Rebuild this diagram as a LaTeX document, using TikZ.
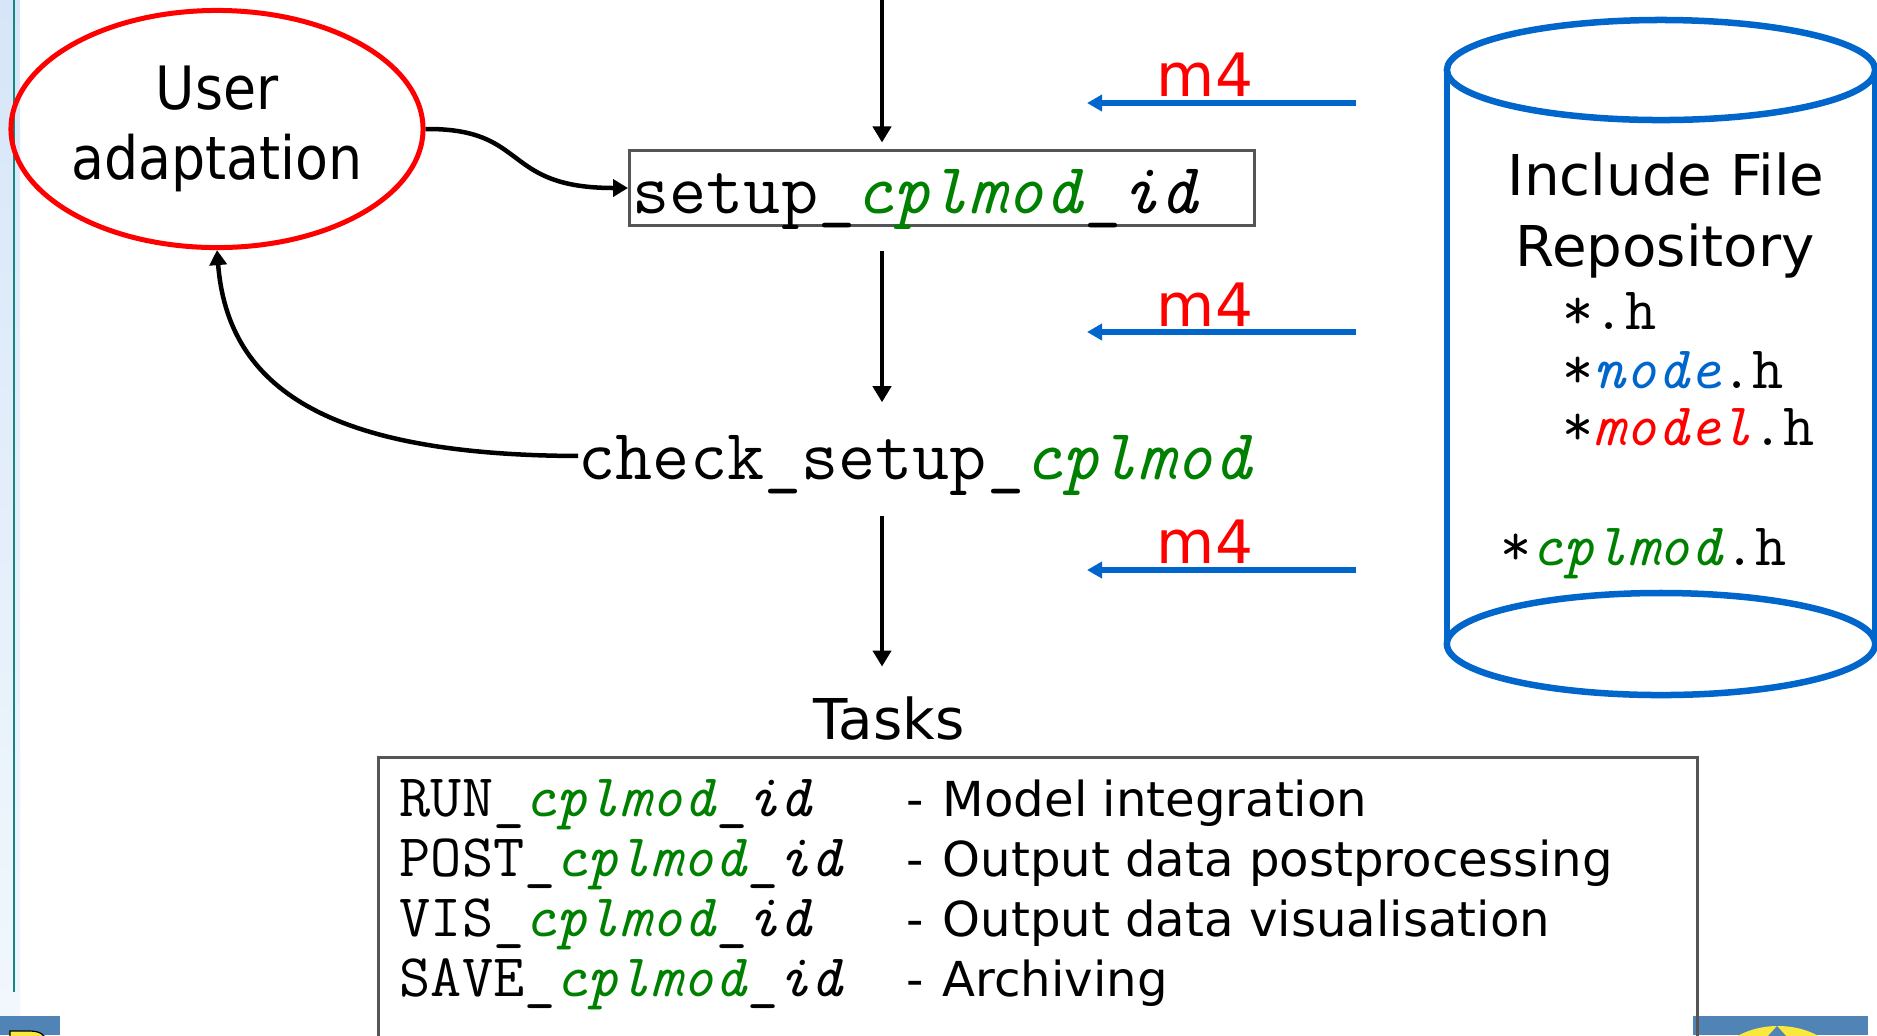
\documentclass[tikz,border=0pt]{standalone}
\usepackage{fontspec}
\setmainfont{DejaVu Sans}
\newfontfamily\narrowsf[FakeStretch=0.9]{DejaVu Sans}
\usetikzlibrary{arrows.meta,shapes.geometric}

\definecolor{cplgreen}{RGB}{0,128,0}
\definecolor{repoblue}{RGB}{0,102,204}
\definecolor{boxgray}{RGB}{85,85,85}
\definecolor{stripteal}{RGB}{20,135,128}
\definecolor{striptop}{RGB}{214,230,248}
\definecolor{stripbot}{RGB}{242,247,253}
\definecolor{logoblue}{RGB}{80,132,182}
\definecolor{logoyellow}{RGB}{250,232,60}

\begin{document}
\begin{tikzpicture}[x=0.01cm, y=-0.01cm,
	flow/.style={line width=0.04cm, -{Triangle[length=0.16cm,width=0.18cm]}},
	curvy/.style={line width=0.045cm, -{Triangle[length=0.15cm,width=0.17cm]}},
	feed/.style={draw=repoblue, line width=0.055cm, -{Triangle[length=0.15cm,width=0.16cm]}},
	bigsf/.style={font=\fontsize{16}{20}\selectfont, inner sep=0pt},
	bigtt/.style={font=\ttfamily\fontsize{20.5}{24}\selectfont},
	smalltt/.style={font=\ttfamily\fontsize{17.2}{20}\selectfont, anchor=base west, inner sep=0pt},
	descr/.style={font=\fontsize{13.7}{16}\selectfont, anchor=base west, inner sep=0pt}]

	\newcommand*{\cplm}{\textcolor{cplgreen}{\textit{cplmod}}} % model name

	\fill[white] (0,0) rectangle (1877,1035);
	\useasboundingbox (0,0) rectangle (1877,1035);

	% slide border and logos
	\shade[top color=striptop, bottom color=stripbot] (0,0) rectangle (20,1016);
	\draw[stripteal, line width=0.025cm] (14,0) -- (14,992);
	\fill[logoblue] (0,1016) rectangle (60,1035);
	\filldraw[fill=logoyellow, draw=black, line width=0.012cm] (10,1040) -- (10,1031) -- (30,1031) .. controls (40,1031) and (45,1035) .. (46,1040) -- cycle;
	\fill[logoblue] (1693,1016) rectangle (1868,1035);
	\begin{scope}
		\clip (1693,1016) rectangle (1868,1035);
		\fill[logoyellow] (1778,1080) ellipse [x radius=0.7cm, y radius=0.54cm];
		\fill[logoblue] (1777,1026) -- (1768,1036) -- (1786,1036) -- cycle;
	\end{scope}

	\node[ellipse, draw=red, line width=0.05cm, minimum width=4.08cm, minimum height=2.37cm, inner sep=0pt, align=center,
		font=\narrowsf\fontsize{17}{19.9}\selectfont] (user) at (217,129) {User\\adaptation};

	\node[bigtt, draw=boxgray, line width=0.03cm, anchor=west, text width=6.19cm, align=left, inner xsep=0.03cm, inner ysep=0pt,
		text height=0.62cm, text depth=0.12cm] (setup) at (628,188) {setup\_\cplm\_\textit{id}};
	\node[bigtt, anchor=base west, inner sep=0pt] (check) at (578,479) {check\_setup\_\cplm};
	\node[bigsf, anchor=base] (tasks) at (889,739) {Tasks};

	\coordinate (top) at (882,0);
	\draw[flow, shorten >=0.07cm] (top) -- (top |- setup.north);
	\draw[flow, shorten <=0.24cm, shorten >=0.32cm] (top |- setup.south) -- (top |- check.north);
	\draw[flow, shorten <=0.2cm, shorten >=0.29cm] (top |- check.south) -- (top |- tasks.north);

	\draw[curvy] (user.east) .. controls (530,128) and (500,188) .. (setup.west);
	\draw[curvy] ([yshift=0.09cm]check.west) .. controls (330,455) and (228,390) .. (user.south);

	% include file repository
	\draw[repoblue, line width=0.065cm] (1661,70) ellipse [x radius=2.14cm, y radius=0.5cm];
	\draw[repoblue, line width=0.065cm] (1447,70) -- (1447,644) (1875,70) -- (1875,644);
	\draw[repoblue, line width=0.065cm] (1661,644) ellipse [x radius=2.14cm, y radius=0.51cm];
	\node[bigsf, anchor=base] (inc1) at (1666,195) {Include File};
	\node[bigsf, anchor=base] (inc2) at (1665,266) {Repository};
	\node[smalltt] (hall) at (1562,329) {*.h};
	\node[smalltt] (hnode) at (1562,388) {*\textcolor{repoblue}{\textit{node}}.h};
	\node[smalltt] (hmodel) at (1562,445) {*\textcolor{red}{\textit{model}}.h};
	\node[smalltt] (hcpl) at (1500,565) {*\cplm.h};

	\foreach \yy/\ly [count=\i] in {103/96, 332/326, 570/563} {
		\coordinate (src\i) at (1356,\yy);
		\coordinate (dst\i) at (1087,\yy);
		\draw[feed] (src\i) -- (dst\i);
		\node[bigsf, anchor=base, text=red, font=\fontsize{17}{20}\selectfont] (mfour\i) at (1205,\ly) {m4};
	}

	% task list
	\draw[boxgray, line width=0.03cm] (378,1045) -- (378,757) -- (1697,757) -- (1697,1045);
	\foreach \cmd/\desc [count=\i] in {RUN/Model integration, POST/Output data postprocessing, VIS/Output data visualisation, SAVE/Archiving} {
		\node[smalltt] (cmd\i) at (399,756+60*\i) {\cmd\_\cplm\_\textit{id}};
		\node[descr] (dash\i) at (906,756+60*\i) {-};
		\node[descr] (desc\i) at (942,756+60*\i) {\desc};
	}

\end{tikzpicture}
\end{document}
